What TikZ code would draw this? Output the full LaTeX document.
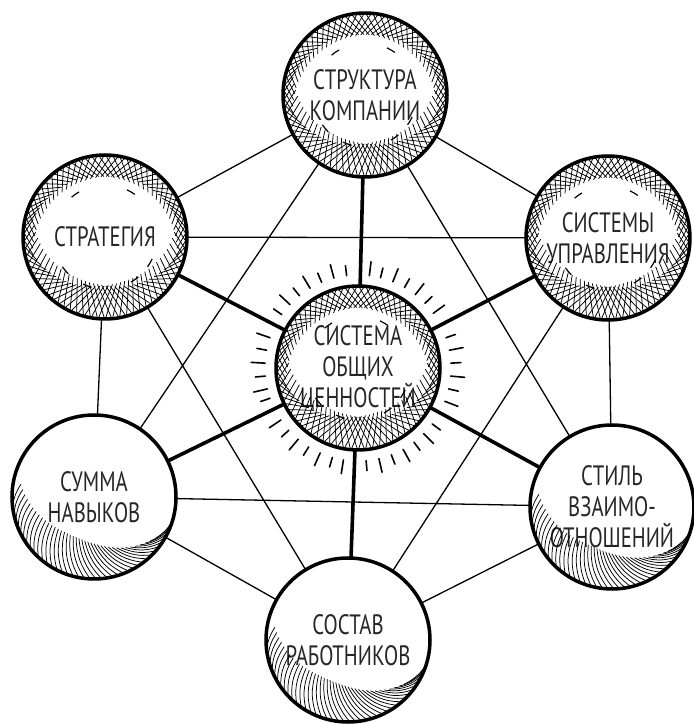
\documentclass[tikz,border=0pt]{standalone}
\usepackage{fontspec}
\setmainfont{PT Sans}[FakeStretch=0.74]
\usepackage{tikz}
\usepackage{xcolor}

% crosshatched rim (upper circles)
\newcommand{\rimhatch}[1]{%
  \begin{scope}[shift={(#1.center)}]
    \clip (0,0) circle (81);
    \foreach \a in {0,5,...,355}{
      \pgfmathsetmacro\rin{82-(8+14*max(0,sin(\a))+26*max(0,-sin(\a)))}
      \draw[hatchline] (\a:83) -- (\a+14:\rin);
      \draw[hatchline] (\a:83) -- (\a-14:\rin);
    }
    \foreach \a in {55,120,215,245,300,325}
      \draw[hatchline, line width=1.2pt] (\a:52) arc (\a:\a+10:52);
  \end{scope}}

% strokes at the bottom (lower circles)
\newcommand{\basehatch}[1]{%
  \begin{scope}[shift={(#1.center)}]
    \clip (0,0) circle (81);
    \foreach \a in {192,196,...,348}{
      \pgfmathsetmacro\rin{82-38*max(0,-sin(\a))}
      \draw[hatchline] (\a:83) to[bend left=18] (\a-22:\rin);
    }
  \end{scope}}

\begin{document}
\begin{tikzpicture}[x=1pt,y=1pt,
  every node/.style={font=\fontsize{28}{31}\selectfont, text=black!85},
  ball/.style={circle, fill=white, minimum size=164pt, inner sep=0pt, align=center},
  rim/.style={line width=3.5pt},
  spoke/.style={line width=3.6pt},
  link/.style={line width=1.3pt},
  hatchline/.style={line width=0.75pt},
  ray/.style={line width=1.6pt, line cap=round}]
\useasboundingbox (0,0) rectangle (694,724);

\node[ball] (struct) at (365,629) {СТРУКТУРА\\КОМПАНИИ};
\node[ball] (strat) at (105,487) {СТРАТЕГИЯ};
\node[ball] (sys) at (608,486) {СИСТЕМЫ\\УПРАВЛЕНИЯ};
\node[ball] (values) at (358,356) {СИСТЕМА\\ОБЩИХ\\ЦЕННОСТЕЙ};
\node[ball] (skills) at (94,227) {СУММА\\НАВЫКОВ};
\node[ball] (style) at (612,217) {СТИЛЬ\\ВЗАИМО-\\ОТНОШЕНИЙ};
\node[ball] (staff) at (348,84) {СОСТАВ\\РАБОТНИКОВ};

% thin links between the outer circles
\draw[link] (struct) -- (strat) (struct) -- (sys) (struct) -- (skills) (struct) -- (style)
  (strat) -- (sys) (strat) -- (skills) (strat) -- (staff)
  (sys) -- (style) (sys) -- (staff)
  (skills) -- (style) (skills) -- (staff) (style) -- (staff);

% thick spokes from the centre
\foreach \n in {struct,strat,sys,skills,style,staff}
  \draw[spoke] (values) -- (\n);

% shading
\foreach \n in {struct,strat,sys,values} \rimhatch{\n};
\foreach \n in {skills,style,staff} \basehatch{\n};

\foreach \n in {struct,strat,sys,values,skills,style,staff}
  \draw[rim] (\n.center) circle (82);

% rays round the centre
\foreach \a [count=\i] in {3,11,19,36,44,52,60,68,76,83,97,105,113,121,129,137,145,
    161,169,177,185,193,199,214,222,230,238,246,254,261,275,283,291,299,307,315,323,339,347,355}{
  \pgfmathsetmacro\len{ifthenelse(mod(\i,2)==0,14,10)}
  \draw[ray] (values.center) ++(\a:93) -- ++(\a:\len);
}
\end{tikzpicture}
\end{document}
